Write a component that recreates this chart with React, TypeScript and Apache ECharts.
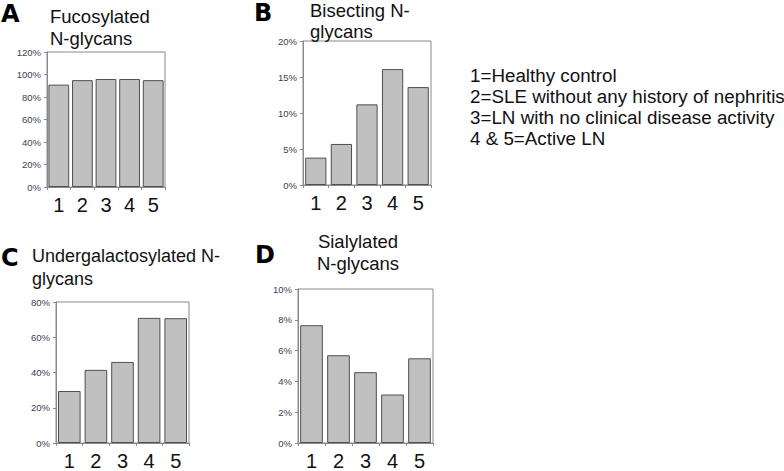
import React, { useEffect, useRef } from "react";
import * as echarts from "echarts";

const categories = ["1", "2", "3", "4", "5"];
const fucosylated = [91, 95, 96, 96, 95];
const bisecting = [3.8, 5.7, 11.2, 16.1, 13.6];
const undergalactosylated = [29.5, 41.5, 46, 71, 70.8];
const sialylated = [7.65, 5.7, 4.6, 3.15, 5.5];

const legendLines = [
  "1=Healthy control",
  "2=SLE without any history of nephritis",
  "3=LN with no clinical disease activity",
  "4 & 5=Active LN",
];

const FONT = "'Liberation Sans', Arial, sans-serif";

export default function App() {
  const ref = useRef<HTMLDivElement>(null);
  useEffect(() => {
    if (!ref.current) return;
    const chart = echarts.init(ref.current, null, { renderer: "svg" });
    const grids = [
      { left: 47, top: 52, width: 118, height: 135 },
      { left: 303, top: 41, width: 128, height: 144 },
      { left: 56, top: 302, width: 133, height: 141 },
      { left: 298, top: 289, width: 135, height: 155 },
    ];
    const maxes = [120, 20, 80, 10];
    const intervals = [20, 5, 20, 2];
    const datas = [fucosylated, bisecting, undergalactosylated, sialylated];
    const gaps = ["12%", "17%", "15%", "16%"];
    const letterStyle = { fontSize: 24, fontWeight: 900, fontFamily: "'DejaVu Sans', " + FONT, fill: "#000" };
    const option: any = {
      animation: false,
      backgroundColor: "#ffffff",
      grid: grids.map((g) => ({
        ...g,
        show: true,
        borderColor: "#8a8a8a",
        borderWidth: 1,
        backgroundColor: "transparent",
        containLabel: false,
      })),
      xAxis: grids.map((_, i) => ({
        type: "category",
        gridIndex: i,
        data: categories,
        axisLine: { show: true, lineStyle: { color: "#8a8a8a", width: 1 } },
        axisTick: { show: true, length: 3, lineStyle: { color: "#8a8a8a" } },
        axisLabel: { fontSize: 20, color: "#111", margin: 8, fontFamily: FONT },
        splitLine: { show: false },
      })),
      yAxis: grids.map((_, i) => ({
        type: "value",
        gridIndex: i,
        min: 0,
        max: maxes[i],
        interval: intervals[i],
        axisLine: { show: true, lineStyle: { color: "#8a8a8a", width: 1 } },
        axisTick: { show: true, length: 3, lineStyle: { color: "#8a8a8a" } },
        axisLabel: {
          fontSize: 9.5,
          color: "#3d3d55",
          margin: 6,
          fontFamily: FONT,
          formatter: "{value}%",
        },
        splitLine: { show: false },
      })),
      series: datas.map((d, i) => ({
        type: "bar",
        xAxisIndex: i,
        yAxisIndex: i,
        data: d,
        barCategoryGap: gaps[i],
        itemStyle: { color: "#c0c0c0", borderColor: "#505050", borderWidth: 1 },
      })),
      graphic: [
        { type: "text", left: 1, top: 2, style: { text: "A", ...letterStyle } },
        { type: "text", left: 254, top: 1, style: { text: "B", ...letterStyle } },
        { type: "text", left: 1, top: 246, style: { text: "C", ...letterStyle } },
        { type: "text", left: 255, top: 243, style: { text: "D", ...letterStyle } },
        { type: "text", left: 50, top: 5, style: { text: "Fucosylated\nN-glycans", fontSize: 18.5, lineHeight: 22, fontFamily: FONT, fill: "#111" } },
        { type: "text", left: 310, top: 0, style: { text: "Bisecting N-\nglycans", fontSize: 18.5, lineHeight: 21, fontFamily: FONT, fill: "#111" } },
        { type: "text", left: 32, top: 244, style: { text: "Undergalactosylated N-\nglycans", fontSize: 18, lineHeight: 23, fontFamily: FONT, fill: "#111" } },
        { type: "text", x: 358, y: 230, style: { text: "Sialylated\nN-glycans", fontSize: 18.5, lineHeight: 22, fontFamily: FONT, fill: "#111", align: "center", verticalAlign: "top" } },
        { type: "text", left: 470, top: 65, style: { text: legendLines.join("\n"), fontSize: 18.8, lineHeight: 21, fontFamily: FONT, fill: "#111" } },
      ],
    };
    chart.setOption(option);
    return () => chart.dispose();
  }, []);
  return (
    <div
      ref={ref}
      style={{ position: "fixed", left: 0, top: 0, width: 784, height: 471 }}
    />
  );
}
